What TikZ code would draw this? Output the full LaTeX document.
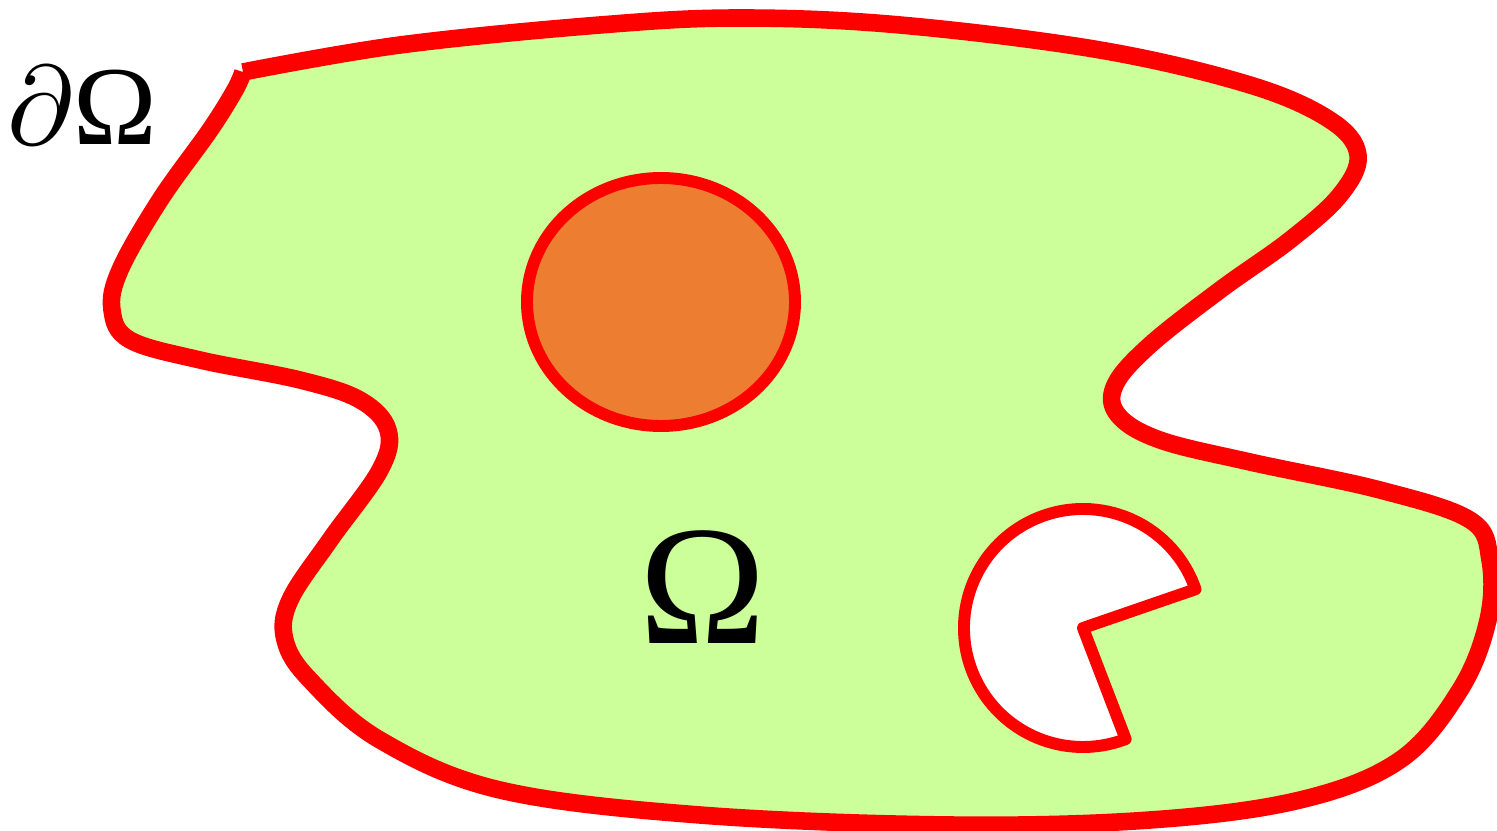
\documentclass[tikz,border=0pt]{standalone}
\usepackage{amsmath}
\usepackage{fontspec}
\usepackage{tikz}
\newfontfamily\greekserif{Liberation Serif}
\definecolor{domaincolor}{RGB}{204,255,153}
\definecolor{inclcolor}{RGB}{237,125,49}

\begin{document}
\begin{tikzpicture}[line join=round]
\useasboundingbox (0,0) rectangle (14.97,8.31);
\clip (0,0) rectangle (14.97,8.31);

% Domain and its boundary
\draw[red, line width=5pt, fill=domaincolor] plot[smooth, tension=0.6] coordinates {
  (2.43,7.59) (4.00,7.86) (6.00,8.06) (7.40,8.13) (9.00,8.06) (11.00,7.81)
  (12.50,7.46) (13.30,7.11) (13.58,6.76) (13.40,6.36) (12.90,5.91) (12.20,5.41)
  (11.50,4.86) (11.15,4.46) (11.18,4.16) (11.60,3.91) (12.50,3.69) (13.80,3.41)
  (14.70,3.11) (14.90,2.71) (14.88,2.11) (14.60,1.41) (14.00,0.71) (13.00,0.31)
  (11.50,0.11) (9.50,0.06) (7.00,0.16) (5.00,0.41) (3.80,0.91) (3.10,1.51)
  (2.85,1.91) (2.90,2.31) (3.30,2.91) (3.80,3.61) (3.88,4.01) (3.60,4.31)
  (3.00,4.51) (2.00,4.71) (1.30,4.91) (1.12,5.21) (1.20,5.61) (1.60,6.31)
  (2.10,7.01) (2.35,7.41) (2.43,7.59)};

% Inclusion
\draw[red, line width=3.4pt, fill=inclcolor] (6.61,5.29) ellipse (1.34 and 1.24);

% Hole
\draw[red, line width=3.4pt, fill=white] (10.83,2.03) -- ++(19:1.19) arc (19:291:1.19) -- cycle;

% Labels
\node[scale=3.2] (dOmega) at (0.82,7.26) {$\partial${\greekserif Ω}};
\node[scale=4.85] (Omega) at (7.03,2.44) {\greekserif Ω};
\end{tikzpicture}
\end{document}
